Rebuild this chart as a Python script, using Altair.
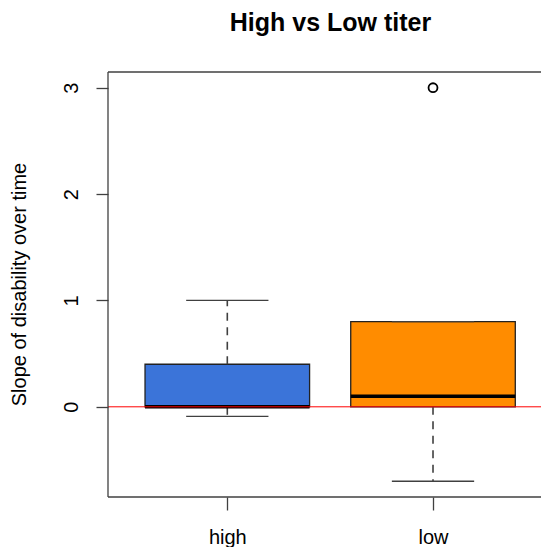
import altair as alt
import pandas as pd

# ---- data ----
categories = ["high", "low"]
positions = [1, 2]
whisker_low = [-0.09, -0.7]
q1 = [0.0, 0.0]
median = [0.0, 0.1]
q3 = [0.4, 0.8]
whisker_high = [1.0, 0.8]
fill_colors = ["#3B74D9", "#FF8C00"]
outlier_category = ["low"]
outlier_pos = [2]
outlier_values = [3.0]
y_ticks = [0, 1, 2, 3]
reference_line = [0.0]

W, H = 433, 425
FONT = "Liberation Sans"
LINE = "#404040"
LW = 1.3

box_df = pd.DataFrame({
    "cat": categories, "pos": positions, "lo": whisker_low, "q1": q1,
    "med": median, "q3": q3, "hi": whisker_high,
})
out_df = pd.DataFrame({"cat": outlier_category, "pos": outlier_pos, "val": outlier_values})
ref_df = pd.DataFrame({"y": reference_line})

xs = alt.Scale(domain=[0.42, 2.525], nice=False, zero=False)
ys = alt.Scale(domain=[-0.848, 3.148], nice=False, zero=False)

label_expr = " : ".join(
    f"datum.value == {p} ? '{c}'" for p, c in zip(positions[:-1], categories[:-1])
) + f" : '{categories[-1]}'"

x_axis = alt.Axis(values=positions, labelExpr=label_expr, title=None, grid=False,
                  domain=False, tickSize=13, tickColor=LINE, tickWidth=LW,
                  labelFontSize=20, labelFont=FONT, labelColor="black",
                  labelPadding=17)
y_axis = alt.Axis(values=y_ticks, format="d", title="Slope of disability over time",
                  grid=False, domain=False, tickSize=12, tickColor=LINE, tickWidth=LW,
                  labelFontSize=20, labelFont=FONT, labelColor="black",
                  labelAngle=270, labelAlign="center", labelBaseline="middle",
                  labelPadding=25, titleFontSize=20, titleFont=FONT,
                  titleFontWeight="normal", titleColor="black", titleAngle=270,
                  titleX=-89, titleY=212, titleAlign="center", titleBaseline="middle")

base = alt.Chart(box_df).transform_calculate(
    xl="datum.pos - 0.4", xr="datum.pos + 0.4",
    cl="datum.pos - 0.2", cr="datum.pos + 0.2",
)

boxes = base.mark_rect(stroke="#222222", strokeWidth=LW).encode(
    x=alt.X("xl:Q", scale=xs, axis=x_axis),
    x2="xr:Q",
    y=alt.Y("q1:Q", scale=ys, axis=y_axis),
    y2="q3:Q",
    fill=alt.Fill("cat:N", scale=alt.Scale(domain=categories, range=fill_colors), legend=None),
)

upper_whisker = base.mark_rule(color=LINE, strokeDash=[8, 6.5], strokeWidth=1.6).encode(
    x=alt.X("pos:Q", scale=xs),
    y=alt.Y("q3:Q", scale=ys), y2="hi:Q",
)
lower_whisker = base.mark_rule(color=LINE, strokeDash=[8, 6.5], strokeWidth=1.6).encode(
    x=alt.X("pos:Q", scale=xs),
    y=alt.Y("q1:Q", scale=ys), y2="lo:Q",
)
upper_cap = base.mark_rule(color=LINE, strokeWidth=LW).encode(
    x=alt.X("cl:Q", scale=xs), x2="cr:Q",
    y=alt.Y("hi:Q", scale=ys),
)
lower_cap = base.mark_rule(color=LINE, strokeWidth=LW).encode(
    x=alt.X("cl:Q", scale=xs), x2="cr:Q",
    y=alt.Y("lo:Q", scale=ys),
)
medians = base.mark_rule(color="black", strokeWidth=3.5).encode(
    x=alt.X("xl:Q", scale=xs), x2="xr:Q",
    y=alt.Y("med:Q", scale=ys),
)
red_line = alt.Chart(ref_df).mark_rule(color="#FF0000", strokeWidth=1).encode(
    x=alt.value(0), x2=alt.value(W),
    y=alt.Y("y:Q", scale=ys),
)
outliers = alt.Chart(out_df).mark_point(shape="circle", filled=False, color="black",
                                        size=80, strokeWidth=1.8, opacity=1).encode(
    x=alt.X("pos:Q", scale=xs),
    y=alt.Y("val:Q", scale=ys),
)

frame_df = pd.DataFrame({"k": [0]})
frame_left = alt.Chart(frame_df).mark_rule(color=LINE, strokeWidth=LW).encode(
    x=alt.value(0), y=alt.value(0), y2=alt.value(H))
frame_top = alt.Chart(frame_df).mark_rule(color=LINE, strokeWidth=LW).encode(
    x=alt.value(0), x2=alt.value(W), y=alt.value(0))
frame_bottom = alt.Chart(frame_df).mark_rule(color=LINE, strokeWidth=LW).encode(
    x=alt.value(0), x2=alt.value(W), y=alt.value(H))

chart = alt.layer(
    boxes, upper_whisker, lower_whisker, upper_cap, lower_cap, medians,
    red_line, outliers, frame_left, frame_top, frame_bottom,
).properties(
    width=W, height=H,
    title=alt.TitleParams("High vs Low titer", fontSize=25, font=FONT, fontWeight="bold",
                          color="black", anchor="middle", frame="group",
                          baseline="alphabetic", offset=15, dx=6),
    autosize=alt.AutoSizeParams(type="none"),
    padding={"left": 100, "top": 64, "right": 0, "bottom": 50},
    background="white",
).configure_view(stroke=None)

chart.save("out.html", embed_options={"renderer": "svg", "actions": False})
